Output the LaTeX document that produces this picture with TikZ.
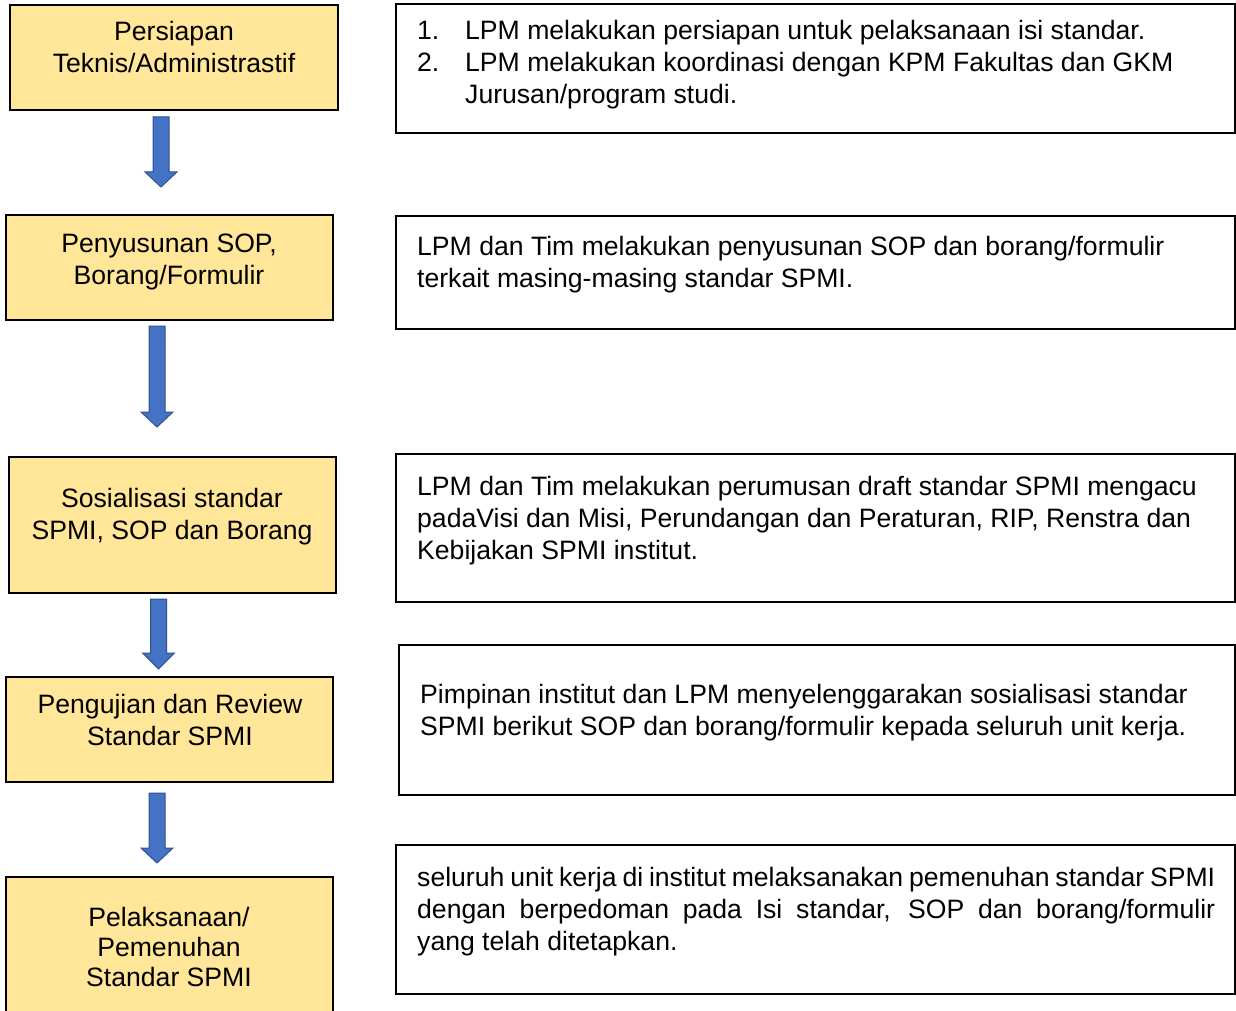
\documentclass[tikz,border=0pt]{standalone}
\usepackage{fontspec}
\setmainfont{Liberation Sans}
\usetikzlibrary{fit}
\definecolor{boxyellow}{HTML}{FFE699}
\definecolor{arrowblue}{HTML}{4472C4}
\definecolor{arrowedge}{HTML}{2F528F}
\begin{document}
\begin{tikzpicture}[x=1pt,y=-1pt,
  ybox/.style={draw=black, line width=2pt, fill=boxyellow, inner sep=0pt},
  wbox/.style={draw=black, line width=2pt, fill=white, inner sep=0pt},
  ltext/.style={font=\fontsize{26.6}{32}\selectfont, align=center, inner sep=0pt, anchor=base},
  rtext/.style={font=\fontsize{26.6}{32}\selectfont, align=left, inner sep=0pt, anchor=base west},
  barrow/.style={fill=arrowblue, draw=arrowedge, line width=1pt, line join=miter},
  pics/blockarrow/.style 2 args={code={
    \draw[barrow] (-8,0) -- (8,0) -- (8,#1) -- (16,#1) -- (0,{#1+#2}) -- (-16,#1) -- (-8,#1) -- cycle;}}]
\clip (0,0) rectangle (1236,1011);
\fill[white] (0,0) rectangle (1236,1011);

% left boxes
\node[ybox, fit={(10,5) (338,110)}] (b1) {};
\node[ybox, fit={(6,215) (333,320)}] (b2) {};
\node[ybox, fit={(9,457) (336,593)}] (b3) {};
\node[ybox, fit={(6,677) (333,782)}] (b4) {};
\node[ybox, fit={(6,877) (333,1040)}] (b5) {};

% (anchor = baseline of the last line)
\node[ltext] (t1) at (174,73) {Persiapan\\Teknis/Administrastif};
\node[ltext] (t2) at (169,284) {Penyusunan SOP,\\Borang/Formulir};
\node[ltext] (t3) at (172,539) {Sosialisasi standar\\SPMI, SOP dan Borang};
\node[ltext] (t4) at (170,745) {Pengujian dan Review\\Standar SPMI};
\node[ltext, font=\fontsize{26.6}{30}\selectfont] (t5) at (169,986) {Pelaksanaan/\\Pemenuhan\\Standar SPMI};

% arrows
\pic (a1) at (161,117) {blockarrow={55}{15}};
\pic (a2) at (157,326) {blockarrow={86}{15}};
\pic (a3) at (158.5,599) {blockarrow={54}{16}};
\pic (a4) at (157,793) {blockarrow={55}{15}};

% right boxes
\node[wbox, fit={(396,4) (1235,133)}] (r1) {};
\node[wbox, fit={(396,216) (1235,329)}] (r2) {};
\node[wbox, fit={(396,454) (1235,602)}] (r3) {};
\node[wbox, fit={(399,645) (1235,795)}] (r4) {};
\node[wbox, fit={(396,845) (1235,994)}] (r5) {};

\node[rtext] (s1) at (417,104) {\makebox[48pt][l]{1.}LPM melakukan persiapan untuk pelaksanaan isi standar.\\
\makebox[48pt][l]{2.}LPM melakukan koordinasi dengan KPM Fakultas dan GKM\\
\hspace*{48pt}Jurusan/program studi.};
\node[rtext] (s2) at (417,287) {LPM dan Tim melakukan penyusunan SOP dan borang/formulir\\terkait masing-masing standar SPMI.};
\node[rtext] (s3) at (417,559) {LPM dan Tim melakukan perumusan draft standar SPMI mengacu\\padaVisi dan Misi, Perundangan dan Peraturan, RIP, Renstra dan\\Kebijakan SPMI institut.};
\node[rtext] (s4) at (420,735) {Pimpinan institut dan LPM menyelenggarakan sosialisasi standar\\SPMI berikut SOP dan borang/formulir kepada seluruh unit kerja.};
\node[rtext] (s5) at (417,950) {\hbox to 798pt{\spaceskip=0pt plus 1fil seluruh unit kerja di institut melaksanakan pemenuhan standar SPMI}\\
\hbox to 798pt{\spaceskip=0pt plus 1fil dengan berpedoman pada Isi standar, SOP dan borang/formulir}\\
yang telah ditetapkan.};
\end{tikzpicture}
\end{document}
